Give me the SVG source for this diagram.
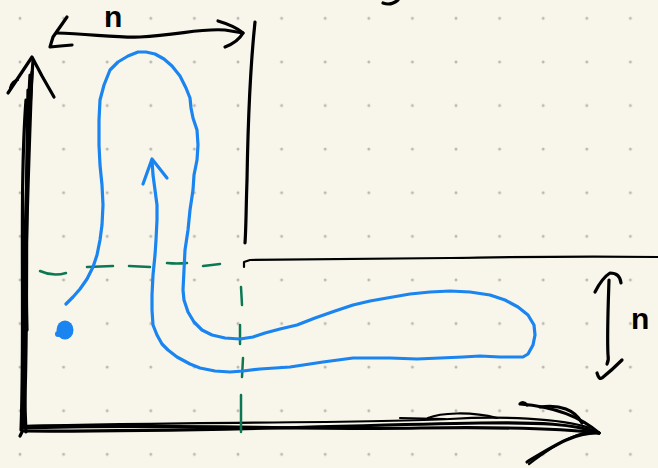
<svg xmlns="http://www.w3.org/2000/svg" width="658" height="468" viewBox="0 0 658 468">
<defs>
<pattern id="dots" patternUnits="userSpaceOnUse" x="-1.8" y="-3.5" width="43.6" height="43.6">
<circle cx="21.8" cy="21.8" r="1.5" fill="#b8b7b0"/>
</pattern>
<style>
.k{fill:none;stroke:#000;stroke-width:3.2;stroke-linecap:round;stroke-linejoin:round}
.kt{fill:none;stroke:#000;stroke-width:2.2;stroke-linecap:round;stroke-linejoin:round}
.b{fill:none;stroke:#1a84f0;stroke-width:3.2;stroke-linecap:round;stroke-linejoin:round}
.g{fill:none;stroke:#0b7853;stroke-width:2.5;stroke-linecap:round}
.t{font-family:"Liberation Sans","DejaVu Sans",sans-serif;font-size:30px;fill:#000;font-weight:bold}
</style>
</defs>
<rect width="658" height="468" fill="#f8f6eb"/>
<rect width="658" height="468" fill="url(#dots)"/>

<g id="mark-top">
<path class="k" d="M383,3 Q391,6 398,0"/>
</g>

<g id="axes">
<path class="k" d="M22,430 C24,330 27,200 32,72"/>
<path class="k" d="M26,432 C21,330 26,160 33,60"/>
<path class="k" d="M30,75 C24,180 29,320 24,425"/>
<path class="k" d="M21,430 C25,330 19,190 26,100"/>
<path class="k" d="M28,90 C27,150 25,250 27,330"/>
<path class="k" d="M8,93 L20,75 L32,57 L42,76 L54,97"/>
<path class="kt" d="M10,88 Q12,80 18,80"/>
<path class="k" d="M22,432 L20,436"/>
<path class="k" d="M22,428 C150,423 300,430 420,428 C500,427 560,428 599,433"/>
<path class="k" d="M24,431 C200,432 350,425 480,423 C540,422 575,424 599,433"/>
<path class="kt" d="M22,426 C200,422 380,423 450,419 C500,416 560,418 590,428"/>
<path class="kt" d="M428,418 C440,413 470,411 497,418"/>
<path class="kt" d="M400,418 L445,419"/>
<path class="k" d="M527,405 Q523,401 520,404 C545,406 575,412 599,433"/>
<path class="k" d="M540,407 C560,404 575,410 582,423"/>
<path class="k" d="M527,462 C555,445 575,432 599,433"/>
<path class="kt" d="M529,464 C555,445 570,435 592,431"/>
</g>

<g id="wall">
<path class="k" d="M255,22 C251,60 248,120 247,180 C246,210 246,230 245,243"/>
<path class="kt" d="M244,267 L244,262 L250,260 C300,260 350,259 450,258 C520,257 560,256 658,257"/>
</g>

<g id="dimension-top">
<path class="k" d="M67,17 L53,37 L50,47 Q60,46 72,45"/>
<path class="k" d="M57,33 C90,34 120,38 140,37 C180,35 200,28 225,30 L243,33"/>
<path class="k" d="M218,21 Q235,26 243,33 Q238,42 225,47"/>
<text class="t" x="104" y="27">n</text>
</g>

<g id="dimension-right">
<path class="k" d="M595,292 Q602,278 610,273 Q620,273 621,283"/>
<path class="k" d="M609,280 C608,310 607,335 608,355 Q609,360 607,364"/>
<path class="k" d="M597,373 Q599,380 602,378 Q612,370 622,360"/>
<text class="t" x="631" y="329">n</text>
</g>

<g id="guides">
<path class="g" d="M40,271 Q53,277 66,273"/>
<path class="g" d="M87,267 L113,266"/>
<path class="g" d="M129,266 L150,267"/>
<path class="g" d="M167,263 Q177,264 187,263"/>
<path class="g" d="M203,266 Q212,265 220,264"/>
<path class="g" d="M241,287 L242,305"/>
<path class="g" d="M240,325 L240,344"/>
<path class="g" d="M243,358 L242,377"/>
<path class="g" d="M241,395 L241,432"/>
</g>

<g id="connectors">
<path class="b" d="M66,304 L73,297 L80,289 L87,279 L93,267 L97,255 L100,240 L102,225 L103,205 L102,185 L100,165 L99,145 L99,120 L100,100 L104,85 L110,70 L118,62 L128,56 L138,52 L146,52 L155,54 L164,59 L172,66 L180,76 L186,88 L190,98 L191,108 L193,118 L197,130 L198,145 L197,160 L194,175 L193,190 L190,210 L188,230 L185,250 L184,270 L183,290 L184,300 L188,312 L194,322 L202,330 L212,335 L225,338 L240,339 L253,337 L265,333 L280,329 L297,325 L315,318 L335,311 L353,305 L370,301 L387,298 L410,294 L430,292 L450,291 L470,292 L490,295 L505,300 L518,307 L528,315 L534,325 L535,335 L533,345 L528,354 L523,357 L500,357 L480,356 L463,357 L440,358 L417,359 L390,358 L353,358 L323,362 L290,367 L260,369 L243,371 L230,372 L215,371 L200,368 L190,364 L177,357 L168,350 L162,344 L157,335 L153,325 L152,310 L152,295 L153,275 L155,255 L156,240 L157,220 L157,205 L155,190 L153,175 L152,160"/>
<path class="b" d="M143,184 L152,159 L167,178"/>
</g>

<g id="dot">
<ellipse cx="65" cy="330" rx="8.5" ry="9.5" fill="#1a84f0"/>
<circle cx="58" cy="334" r="3" fill="#1a84f0"/>
</g>
</svg>
